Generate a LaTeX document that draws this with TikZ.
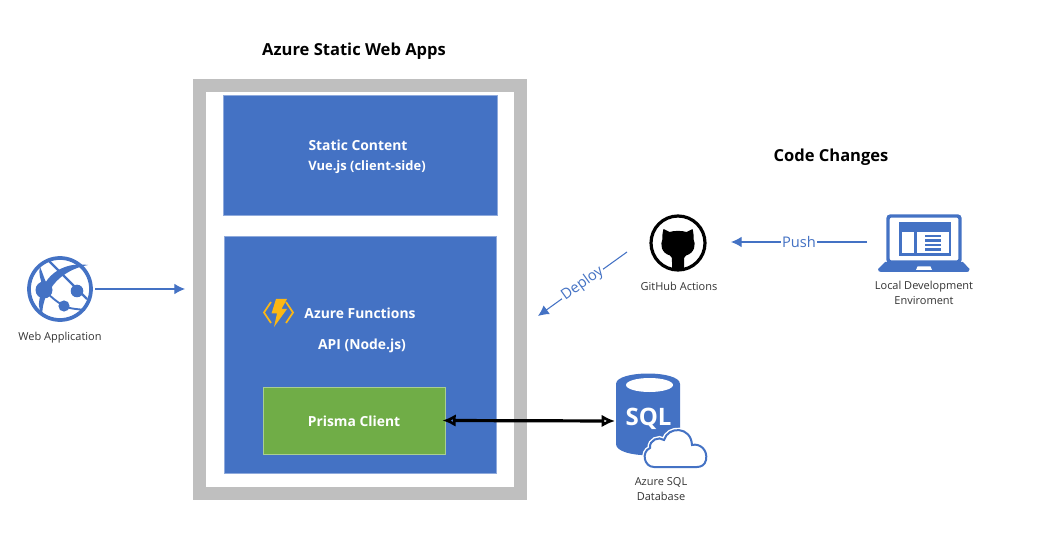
\documentclass[tikz,border=0pt]{standalone}
\usepackage{fontspec}
\setmainfont{Open Sans}
\usetikzlibrary{arrows.meta}
\definecolor{azb}{HTML}{4472C4}
\definecolor{gryb}{HTML}{BFBFBF}
\definecolor{grn}{HTML}{70AD47}
\definecolor{bolt}{HTML}{FCB714}
\definecolor{lab}{HTML}{333333}
\tikzset{
  x=0.75pt,y=-0.75pt,
  title/.style={font=\fontsize{12.4}{14}\selectfont\bfseries,text=black,inner sep=0},
  inbox/.style={font=\fontsize{10.4}{12}\selectfont\bfseries,text=white,inner sep=0},
  caption/.style={font=\fontsize{8.25}{11.2}\selectfont,text=lab,inner sep=0,align=center},
  flowlabel/.style={font=\fontsize{11}{12}\selectfont,text=azb,fill=white,inner sep=1pt},
  flow/.style={azb,line width=0.8pt,-{Latex[length=8pt,width=8pt]}},
  bluebox/.style={fill=azb,draw=azb!60!white,line width=0.6pt,inner sep=0},
}
\begin{document}
\begin{tikzpicture}
\useasboundingbox (0,0) rectangle (1038,534);
% outer frame
\node[draw=gryb,line width=9.5pt,fill=white,minimum width=321.5*0.75pt,minimum height=408.5*0.75pt,inner sep=0] (frame) at (360,289.5) {};
\node[bluebox,minimum width=274*0.75pt,minimum height=120*0.75pt] (static) at (360,155) {};
\node[bluebox,minimum width=272*0.75pt,minimum height=237*0.75pt] (api) at (360,354.5) {};
\node[fill=grn,draw=grn!60!white,line width=0.6pt,minimum width=182*0.75pt,minimum height=67*0.75pt,inner sep=0] (prisma) at (354,420.5) {};
% texts
\node[title] (ttitle) at (354,51) {Azure Static Web Apps};
\node[title] (tcode) at (831,157) {Code Changes};
\node[inbox] (tstatic) at (358,145) {Static Content};
\node[inbox,font=\fontsize{9.7}{12}\selectfont\bfseries] (tvue) at (367,167) {Vue.js (client-side)};
\node[inbox] (tfunc) at (360,313) {Azure Functions};
\node[inbox] (tapi) at (362,346) {API (Node.js)};
\node[inbox] (tprisma) at (354,421) {Prisma Client};
\node[caption] (tweb) at (60,337.5) {Web Application};
\node[caption] (tgh) at (679,286) {GitHub Actions};
\node[caption] (tlocal) at (924,292.5) {Local Development\\Enviroment};
\node[caption] (tsql) at (661,489.5) {Azure SQL\\Database};
% Lightning icon
\begin{scope}[bolt]
  \draw[line width=1.3pt,line join=miter] (271,302) -- (264,312.5) -- (271,323);
  \draw[line width=1.3pt,line join=miter] (286,302) -- (293,312.5) -- (286,323);
  \fill (276,299) -- (287,299) -- (281.5,309) -- (287,309) -- (274,327) -- (277,313.5) -- (271.5,313.5) -- cycle;
\end{scope}
% Web icon
\node[circle,draw=azb,line width=2.8pt,minimum size=62*0.75pt,inner sep=0] (web) at (60,289) {};
\begin{scope}[azb]
  \fill (44,290) circle (8.5);
  \fill (77,291) circle (6.3);
  \fill (64,306) circle (5.6);
  \draw[line width=1.7pt] (48,260) -- (87,299);
  \fill (43,287) .. controls (50,272) and (66,262) .. (88,265) .. controls (72,268) and (57,277) .. (50,290) -- cycle;
  \fill (40,267) .. controls (38,273) and (41,280) .. (42,285) -- (47,284) .. controls (44,279) and (43,273) .. (40,267) -- cycle;
  \fill (41,294) -- (46,295) .. controls (44,303) and (41,310) .. (43,316) .. controls (38,310) and (38,302) .. (41,294) -- cycle;
  \draw[line width=1.4pt] (44,290) .. controls (51,297) and (57,302) .. (64,306) .. controls (70,309) and (77,309) .. (85,310);
\end{scope}
% GitHub icon
\node[circle,draw=black,line width=2.4pt,minimum size=54*0.75pt,inner sep=0] (gh) at (678,243) {};
\fill[black] (663.5,229) -- (669.5,232) .. controls (674,230.5) and (682,230.5) .. (686.5,232) -- (692.5,229)
  .. controls (693.5,233) and (694,237) .. (693.5,239) .. controls (696,244) and (695,253) .. (686,255.5)
  .. controls (684,256.5) and (684,258) .. (684,263) -- (684,271) -- (672,271) -- (672,263)
  .. controls (672,258) and (672,256.5) .. (670,255.5) .. controls (661,253) and (660,244) .. (662.5,239)
  .. controls (662,237) and (662.5,233) .. (663.5,229) -- cycle;
% Laptop icon
\node[draw=azb,line width=2.6pt,rounded corners=2pt,fill=white,minimum width=72*0.75pt,minimum height=46*0.75pt,inner sep=0] (laptop) at (924,239) {};
\fill[azb] (885,262) -- (963,262) -- (969.5,269) .. controls (969.5,271) and (968.5,272) .. (967,272) -- (881,272) .. controls (879,272) and (878,271) .. (878,269) -- cycle;
\fill[white] (916,270) -- (917.5,266.5) -- (930.5,266.5) -- (932,270) -- cycle;
\fill[azb] (899,222) rectangle (951,256);
\fill[white] (901.5,232) rectangle (913.5,253.5);
\fill[white] (917,232) rectangle (948.5,253.5);
\fill[azb] (925,235) rectangle (941,237.5);
\fill[azb] (925,239.5) rectangle (941,242);
\fill[azb] (925,244) rectangle (941,246.5);
\fill[azb] (925,248.5) rectangle (941,251);
% SQL icon
\path[fill=azb] (616,384) .. controls (616,370) and (680,370) .. (680,384) -- (680,444) .. controls (680,459) and (616,459) .. (616,444) -- cycle;
\fill[white] (649.5,385) ellipse (23.5 and 7);
\node[font=\fontsize{18}{20}\selectfont\bfseries,text=white,inner sep=0] (tsqlicon) at (648.5,419) {SQL};
\path[fill=white,draw=white,line width=3.6pt] (654,467) .. controls (644,467) and (641,452) .. (650,448)
  .. controls (649,440) and (659,436) .. (664,440) .. controls (668,426) and (691,426) .. (692,445)
  .. controls (700,443) and (708,450) .. (706,460) .. controls (705,465) and (701,467) .. (697,467) -- cycle;
\path[fill=white,draw=azb,line width=1.5pt] (654,467) .. controls (644,467) and (641,452) .. (650,448)
  .. controls (649,440) and (659,436) .. (664,440) .. controls (668,426) and (691,426) .. (692,445)
  .. controls (700,443) and (708,450) .. (706,460) .. controls (705,465) and (701,467) .. (697,467) -- cycle;
% connectors
\coordinate (webout) at (95,289);
\coordinate (framein) at (185,289);
\draw[flow] (webout) -- (framein);
\coordinate (depa) at (627,252);
\coordinate (depb) at (538,316);
\draw[flow] (depa) -- node[flowlabel,sloped] (ldeploy) {Deploy} (depb);
\coordinate (pusha) at (867,242);
\coordinate (pushb) at (731,242);
\draw[flow] (pusha) -- node[flowlabel] (lpush) {Push} (pushb);
\coordinate (sqlin) at (615,421);
\coordinate (prismaout) at ([xshift=-3*0.75pt]prisma.east);
\draw[black,line width=2.4pt,{Latex[length=10pt,width=9.5pt,open]}-{Latex[length=10pt,width=9.5pt,open]}] (prismaout) -- (sqlin);
\end{tikzpicture}
\end{document}
